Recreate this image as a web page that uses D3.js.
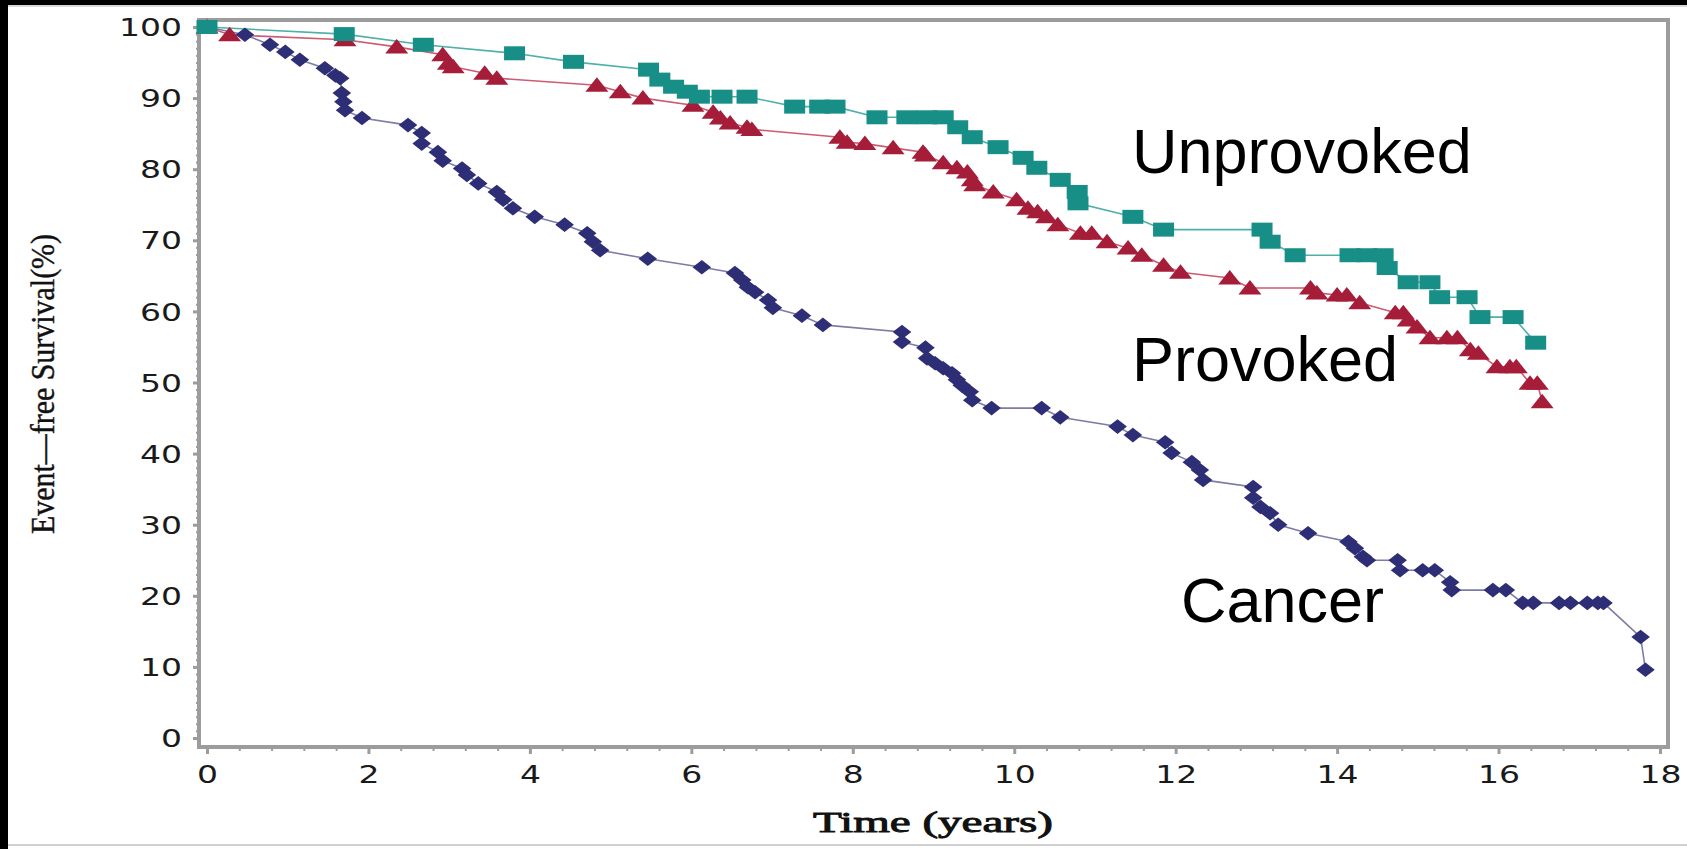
<!DOCTYPE html>
<html>
<head>
<meta charset="utf-8">
<script src="https://cdn.jsdelivr.net/npm/d3@7"></script>
<style>
  html, body { margin: 0; padding: 0; background: #ffffff; }
  svg { display: block; }
</style>
</head>
<body>
<svg id="chart" width="1687" height="849"></svg>
<script>
// ---------------- DATA ----------------
const xTickValues = [0, 2, 4, 6, 8, 10, 12, 14, 16, 18];
const yTickValues = [0, 10, 20, 30, 40, 50, 60, 70, 80, 90, 100];

const unprovokedTime = [0, 1.70, 2.68, 3.81, 4.54, 5.47, 5.61, 5.78, 5.95, 6.10, 6.38, 6.69, 7.28, 7.59, 7.78, 8.30, 8.67, 8.92, 9.12, 9.30, 9.48, 9.80, 10.11, 10.28, 10.57, 10.78, 10.79, 11.47, 11.85, 13.07, 13.17, 13.48, 14.16, 14.37, 14.57, 14.62, 14.88, 15.15, 15.27, 15.61, 15.77, 16.18, 16.46];
const unprovokedSurv = [100, 99.0, 97.5, 96.3, 95.1, 94.0, 92.6, 91.6, 90.9, 90.2, 90.2, 90.2, 88.8, 88.8, 88.8, 87.3, 87.3, 87.3, 87.3, 85.9, 84.5, 83.1, 81.6, 80.2, 78.5, 76.8, 75.2, 73.3, 71.5, 71.5, 69.8, 67.9, 67.9, 67.9, 67.9, 66.1, 64.1, 64.1, 62.0, 62.0, 59.2, 59.2, 55.6];

const provokedTime = [0, 0.28, 1.71, 2.35, 2.92, 2.99, 3.05, 3.44, 3.59, 4.83, 5.12, 5.40, 6.02, 6.27, 6.36, 6.48, 6.69, 6.75, 7.84, 7.93, 8.15, 8.50, 8.87, 8.90, 9.12, 9.29, 9.42, 9.48, 9.51, 9.74, 10.03, 10.17, 10.29, 10.40, 10.54, 10.82, 10.96, 11.15, 11.41, 11.58, 11.85, 12.06, 12.67, 12.92, 13.67, 13.75, 14.00, 14.12, 14.28, 14.72, 14.82, 14.88, 14.99, 15.15, 15.36, 15.49, 15.65, 15.75, 15.98, 16.14, 16.22, 16.39, 16.48, 16.54];
const provokedSurv = [100, 98.9, 98.2, 97.2, 96.1, 94.9, 94.4, 93.5, 92.8, 91.8, 90.9, 90.0, 89.0, 88.0, 87.2, 86.5, 85.9, 85.6, 84.5, 83.8, 83.6, 83.0, 82.4, 82.0, 80.9, 80.2, 79.6, 78.5, 77.8, 76.8, 75.7, 74.5, 74.0, 73.3, 72.2, 71.0, 71.0, 69.8, 68.9, 67.9, 66.5, 65.5, 64.7, 63.3, 63.3, 62.6, 62.3, 62.3, 61.2, 59.8, 59.8, 58.8, 57.8, 56.3, 56.3, 56.3, 54.6, 54.1, 52.2, 52.2, 52.2, 49.9, 49.9, 47.3];

const cancerTime = [0, 0.47, 0.78, 0.97, 1.15, 1.46, 1.59, 1.65, 1.67, 1.69, 1.71, 1.92, 2.49, 2.66, 2.66, 2.86, 2.92, 3.16, 3.22, 3.36, 3.59, 3.67, 3.79, 4.06, 4.43, 4.71, 4.78, 4.87, 5.46, 6.13, 6.54, 6.63, 6.70, 6.79, 6.95, 7.01, 7.37, 7.63, 8.61, 8.61, 8.90, 8.92, 9.02, 9.12, 9.23, 9.29, 9.35, 9.45, 9.48, 9.72, 10.34, 10.57, 11.28, 11.47, 11.87, 11.95, 12.20, 12.30, 12.34, 12.96, 12.96, 13.05, 13.17, 13.27, 13.64, 14.14, 14.22, 14.32, 14.37, 14.75, 14.78, 15.06, 15.21, 15.40, 15.42, 15.93, 16.09, 16.30, 16.43, 16.75, 16.89, 17.10, 17.23, 17.30, 17.76, 17.82];
const cancerSurv = [100, 98.9, 97.5, 96.5, 95.4, 94.2, 93.2, 92.8, 90.7, 89.5, 88.3, 87.2, 86.2, 85.1, 83.6, 82.4, 81.2, 80.1, 79.2, 78.0, 76.8, 75.7, 74.5, 73.3, 72.2, 71.0, 69.8, 68.6, 67.4, 66.2, 65.4, 64.4, 63.4, 62.7, 61.6, 60.5, 59.4, 58.1, 57.1, 55.7, 54.9, 53.4, 52.7, 52.0, 51.3, 50.4, 49.6, 48.7, 47.5, 46.4, 46.4, 45.1, 43.8, 42.6, 41.6, 40.1, 38.8, 37.7, 36.3, 35.3, 33.8, 32.5, 31.6, 30.0, 28.8, 27.6, 26.7, 25.5, 25.0, 25.0, 23.6, 23.6, 23.6, 21.9, 20.8, 20.8, 20.8, 19.0, 19.0, 19.0, 19.0, 19.0, 19.0, 19.0, 14.2, 9.6];

const seriesNames = ["Unprovoked", "Provoked", "Cancer"];
const xTitle = "Time  (years)";
const yTitle = "Event\u2014free Survival(%)";

// ---------------- LAYOUT ----------------
const svg = d3.select("#chart");
const W = 1687, H = 849;
const frame = { left: 199, top: 20, right: 1668, bottom: 747 };

const x = d3.scaleLinear().domain([0, 18]).range([207, 1660]);
const y = d3.scaleLinear().domain([0, 100]).range([738, 27]);

// page decoration (black bands of the original screenshot)
svg.append("rect").attr("x", 0).attr("y", 0).attr("width", W).attr("height", H).attr("fill", "#ffffff");
svg.append("rect").attr("x", 0).attr("y", 0).attr("width", W).attr("height", 5).attr("fill", "#000");
svg.append("rect").attr("x", 0).attr("y", 5).attr("width", W).attr("height", 2).attr("fill", "#d9d9d9");
svg.append("rect").attr("x", 0).attr("y", 0).attr("width", 8).attr("height", H).attr("fill", "#000");
svg.append("rect").attr("x", 8).attr("y", 844).attr("width", W - 8).attr("height", 2).attr("fill", "#d0d0d0");

const axisColor = "#9c9c9c";

// minor ticks
const yMinor = d3.range(0, 101, 1).filter(v => v % 10 !== 0);
const xMinor = d3.range(0, 18.01, 0.4).map(v => +v.toFixed(1)).filter(v => Math.abs(v / 2 - Math.round(v / 2)) > 1e-6);

const yAxisMinor = svg.append("g").attr("transform", `translate(${frame.left},0)`)
  .call(d3.axisLeft(y).tickValues(yMinor).tickSize(3).tickFormat(""));
const xAxisMinor = svg.append("g").attr("transform", `translate(0,${frame.bottom})`)
  .call(d3.axisBottom(x).tickValues(xMinor).tickSize(4).tickFormat(""));
[yAxisMinor, xAxisMinor].forEach(g => {
  g.select(".domain").remove();
  g.selectAll("line").attr("stroke", axisColor).attr("stroke-width", 2);
});

// major axes
const tickFont = "'DejaVu Sans', sans-serif";
const yAxis = svg.append("g").attr("transform", `translate(${frame.left},0)`)
  .call(d3.axisLeft(y).tickValues(yTickValues).tickSize(6).tickPadding(11).tickFormat(d3.format("d")));
const xAxis = svg.append("g").attr("transform", `translate(0,${frame.bottom})`)
  .call(d3.axisBottom(x).tickValues(xTickValues).tickSize(7).tickPadding(12).tickFormat(d3.format("d")));
[yAxis, xAxis].forEach(g => {
  g.select(".domain").remove();
  g.selectAll("line").attr("stroke", axisColor).attr("stroke-width", 3);
  g.selectAll("text")
    .attr("fill", "#1a1a1a")
    .style("font-family", tickFont)
    .style("font-size", "24px")
    .each(function(d) {
      const s = String(d);
      d3.select(this).attr("textLength", 21 * s.length).attr("lengthAdjust", "spacingAndGlyphs");
    });
});
yAxis.selectAll("text").attr("dy", "0.36em");

// frame
svg.append("rect")
  .attr("x", frame.left).attr("y", frame.top)
  .attr("width", frame.right - frame.left).attr("height", frame.bottom - frame.top)
  .attr("fill", "none").attr("stroke", axisColor).attr("stroke-width", 4);

// axis titles
svg.append("text")
  .attr("transform", "translate(54,384) rotate(-90)")
  .attr("text-anchor", "middle")
  .attr("textLength", 300).attr("lengthAdjust", "spacingAndGlyphs")
  .style("font-family", "'Liberation Serif', 'Times New Roman', serif")
  .style("font-size", "33px")
  .attr("fill", "#111")
  .attr("stroke", "#111").attr("stroke-width", 0.4)
  .text(yTitle);

svg.append("text")
  .attr("x", 933).attr("y", 832)
  .attr("text-anchor", "middle")
  .attr("textLength", 240).attr("lengthAdjust", "spacingAndGlyphs")
  .style("font-family", "'Liberation Serif', 'Times New Roman', serif")
  .style("font-size", "30px")
  .attr("fill", "#111")
  .attr("stroke", "#111").attr("stroke-width", 0.9)
  .text(xTitle);

// ---------------- SERIES ----------------
const series = [
  { name: seriesNames[0], t: unprovokedTime, s: unprovokedSurv, fill: "#178f86", line: "#4fb0a8", shape: "square" },
  { name: seriesNames[1], t: provokedTime, s: provokedSurv, fill: "#a51d38", line: "#cf5a72", shape: "triangle" },
  { name: seriesNames[2], t: cancerTime, s: cancerSurv, fill: "#2e2e76", line: "#7c7ca6", shape: "diamond" }
];

const shapes = {
  square: "M-10.5,-7H10.5V7H-10.5Z",
  triangle: "M0,-8L11.5,6.5L-11.5,6.5Z",
  diamond: "M0,-7.3L9.3,0L0,7.3L-9.3,0Z"
};

const line = d3.line().x(d => x(d[0])).y(d => y(d[1]));

series.forEach(sr => {
  const pts = sr.t.map((t, i) => [t, sr.s[i]]);
  svg.append("path")
    .datum(pts)
    .attr("d", line)
    .attr("fill", "none")
    .attr("stroke", sr.line)
    .attr("stroke-width", 1.6);
});

// draw markers (cancer last)
series.slice().reverse().forEach(sr => {
  const pts = sr.t.map((t, i) => [t, sr.s[i]]);
  svg.append("g").selectAll("path")
    .data(pts)
    .join("path")
    .attr("d", shapes[sr.shape])
    .attr("transform", d => `translate(${x(d[0])},${y(d[1])})`)
    .attr("fill", sr.fill);
});

// series labels
const labelFont = "'Liberation Sans', Arial, sans-serif";
const labels = [
  { text: seriesNames[0], x: 1132, y: 173 },
  { text: seriesNames[1], x: 1132, y: 381 },
  { text: seriesNames[2], x: 1181, y: 622 }
];
svg.append("g").selectAll("text")
  .data(labels)
  .join("text")
  .attr("x", d => d.x).attr("y", d => d.y)
  .style("font-family", labelFont)
  .style("font-size", "63px")
  .attr("fill", "#000")
  .text(d => d.text);
</script>
</body>
</html>
